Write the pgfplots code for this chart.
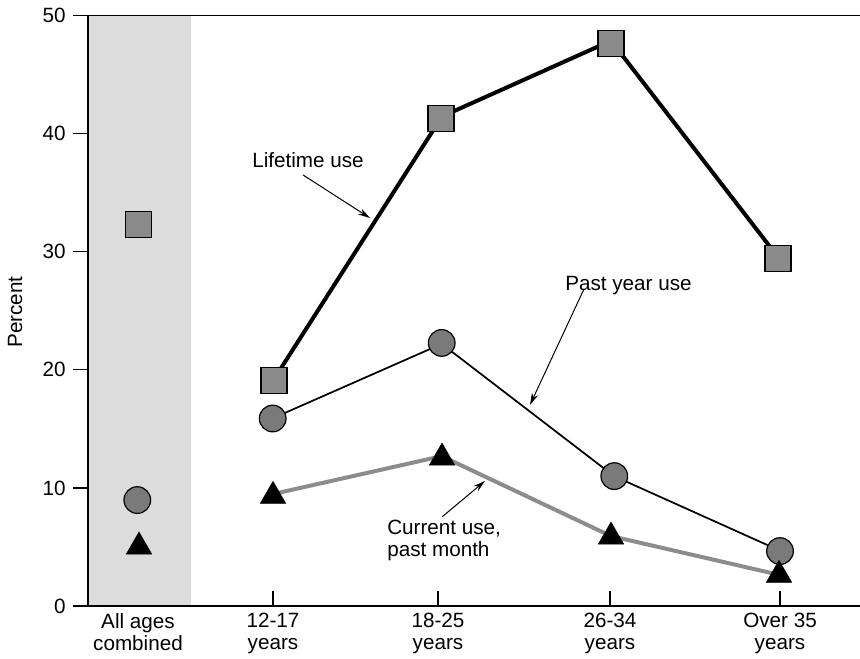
\documentclass[border=0pt]{standalone}
\usepackage{pgfplots}
\pgfplotsset{compat=1.18}
\usepackage{fontspec}
\setmainfont{Liberation Sans}
\usetikzlibrary{arrows.meta}
\definecolor{bandgray}{RGB}{220,220,220}
\definecolor{sqfill}{RGB}{138,138,138}
\definecolor{cfill}{RGB}{122,122,122}
\definecolor{curline}{RGB}{140,140,140}
\begin{document}
\fontsize{15.5}{17}\selectfont
\begin{tikzpicture}
\begin{axis}[
  scale only axis,
  width=579pt, height=442.7pt,
  xmin=88, xmax=860, ymin=0, ymax=50,
  axis x line*=bottom, axis y line*=left,
  axis line style={-, line width=0.9pt},
  clip=false, axis on top,
  ytick={0,10,...,50},
  ytick align=outside, xtick align=inside,
  major tick length=11.5pt,
  tick style={black, line width=0.9pt},
  xtick={273,438,610,780},
  xticklabels={{12-17\\years},{18-25\\years},{26-34\\years},{Over 35\\years}},
  xticklabel style={align=center, font=\fontsize{15.5}{16.5}\selectfont},
  extra x ticks={138},
  extra x tick labels={{All ages\\combined}},
  extra x tick style={major tick length=0pt},
  /pgf/number format/assume math mode=true,
]
% shaded band for all ages combined
\fill[bandgray] (axis cs:88,0) rectangle (axis cs:190.5,50);
\draw[line width=0.9pt] (axis cs:88,50) -- (axis cs:860,50);

% markers
\addplot[only marks, mark=square*, mark size=9.8pt,
  mark options={fill=sqfill, draw=black, line width=0.9pt}]
  coordinates {(138.5,32.29)(274,19.12)(441,41.31)(611,47.63)(778,29.44)};
\addplot[only marks, mark=*, mark size=10pt,
  mark options={fill=cfill, draw=black, line width=0.9pt}]
  coordinates {(137.3,8.97)(272.7,15.88)(441.7,22.28)(614.3,11.0)(780,4.65)};
\addplot[only marks, mark=triangle*, mark size=11pt,
  mark options={fill=black, draw=none}]
  coordinates {(139,5.02)(273,9.31)(442,12.55)(611,5.86)(779,2.62)};

% lines drawn over the markers
\addplot[black, line width=3pt, mark=none]
  coordinates {(272,18.95)(442,41.46)(611,47.88)(779,29.44)};
\addplot[black, line width=1.3pt, mark=none]
  coordinates {(272.3,15.88)(441.7,22.2)(614,11.0)(780,4.68)};
\addplot[curline, line width=3pt, mark=none]
  coordinates {(273,9.48)(441.7,12.69)(611,5.92)(780,2.62)};

% annotations
\node at (axis cs:308,37.78) {Lifetime use};
\draw[line width=0.75pt, -{Stealth[length=9pt,width=5pt]}] (axis cs:303,36.51) -- (axis cs:370,32.86);
\node at (axis cs:628.5,27.15) {Past year use};
\draw[line width=0.75pt, -{Stealth[length=9pt,width=5pt]}] (axis cs:584,26.85) -- (axis cs:530,17.03);
\node[anchor=north west, align=left, inner sep=0pt, font=\fontsize{15.5}{16.5}\selectfont] at (axis cs:387,7.28) {Current use,\\past month};
\draw[line width=0.75pt, -{Stealth[length=9pt,width=5pt]}] (axis cs:442,7.54) -- (axis cs:485,10.59);
\node[rotate=90] at (axis cs:15,24.9) {Percent};

\coordinate (BL) at (axis cs:0,-4.489);
\coordinate (TR) at (axis cs:860,51.33);
\end{axis}
\pgfresetboundingbox
\path[use as bounding box] (BL) rectangle (TR);
\end{tikzpicture}
\end{document}
